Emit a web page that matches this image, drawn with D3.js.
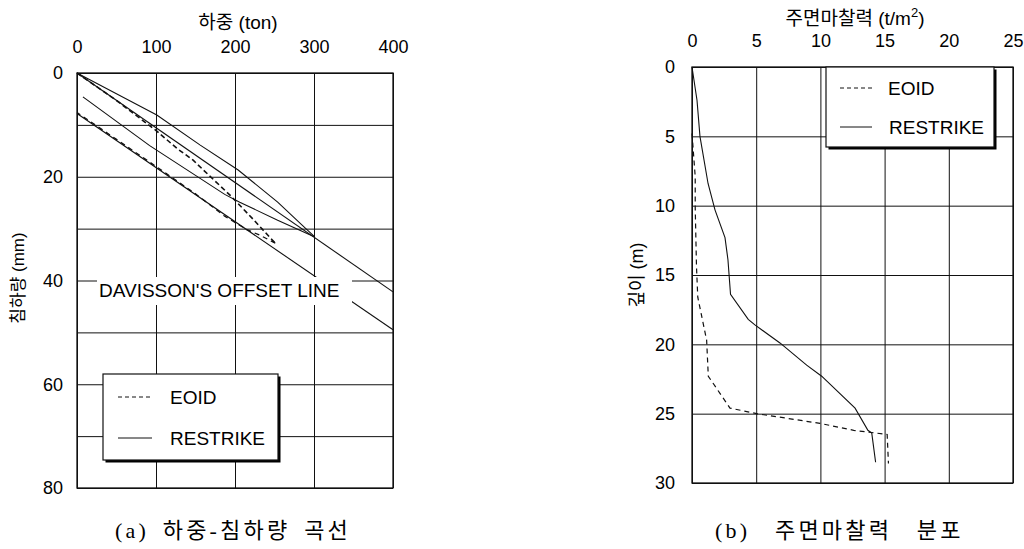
<!DOCTYPE html>
<html><head><meta charset="utf-8">
<script src="https://cdn.jsdelivr.net/npm/d3@7"></script>
<style>body{margin:0;background:#fff} svg{display:block;background:#fff}</style>
</head><body><svg id="c" width="1024" height="549"></svg>
<script>
// ---------- (a) load-settlement data ----------
const loadTicks = [0, 100, 200, 300, 400];
const settleTicks = [0, 20, 40, 60, 80];
const settleGrid = [0, 10, 20, 30, 40, 50, 60, 70, 80];
const restrikeLoadingLoad   = [0, 101, 156, 204, 254, 289, 301];
const restrikeLoadingSettle = [0, 8.1, 13.9, 18.7, 24.9, 29.9, 31.6];
const restrikeUnloadLoad    = [301, 254, 206, 187, 92, 7.5];
const restrikeUnloadSettle  = [31.6, 28.4, 24.9, 23.4, 14.0, 4.6];
const eoidLoadingLoad   = [0, 50, 101, 127, 147, 160, 194, 206, 223, 232, 251];
const eoidLoadingSettle = [0, 5.3, 11.2, 14.6, 16.8, 18.7, 23.6, 25.5, 28.2, 29.7, 32.8];
const eoidUnloadLoad    = [251, 232, 215, 187, 150, 100, 50, 0];
const eoidUnloadSettle  = [32.8, 31.3, 30.2, 27.6, 23.3, 18.0, 12.8, 7.6];
const elasticLoad = [0, 400];
const elasticSettle = [0, 42.2];
const offsetLoad = [0, 400];
const offsetSettle = [7.8, 49.5];

// ---------- (b) skin friction data ----------
const frictionTicks = [0, 5, 10, 15, 20, 25];
const depthTicks = [0, 5, 10, 15, 20, 25, 30];
const restrikeFriction = [0, 0.39, 0.62, 1.25, 1.79, 2.57, 2.8, 3.0, 4.38, 4.9, 6.85, 8.93, 10.1, 12.7, 13.7, 14.0, 14.3];
const restrikeDepth    = [0, 2.4, 5.0, 8.4, 10.3, 12.3, 13.9, 16.4, 18.2, 18.6, 19.9, 21.5, 22.3, 24.6, 26.2, 26.4, 28.5];
const eoidFriction = [0, 0.25, 0.25, 0.35, 0.45, 1.14, 1.27, 2.96, 5.04, 9.97, 12.6, 15.2, 15.3];
const eoidDepth    = [4.8, 7.9, 10.1, 14.4, 16.6, 19.7, 22.3, 24.6, 25.0, 25.7, 26.2, 26.5, 28.6];

const svg = d3.select('#c');
const LAT = '"Liberation Sans", Arial, sans-serif';
const KR = '"Liberation Sans", "Noto Sans CJK KR", sans-serif';
const SERIF = '"Liberation Serif", "Noto Sans CJK KR", serif';
const zip = (a, b) => a.map((v, i) => [v, b[i]]);
const ink = '#111';

function grid(g, x, y, xv, yv) {
  g.append('g').call(d3.axisTop(x).tickValues(xv).tickSize(-(y.range()[1] - y.range()[0])).tickFormat(''))
    .attr('transform', `translate(0,${y.range()[0]})`)
    .call(s => { s.select('.domain').remove(); s.selectAll('line').attr('stroke', ink).attr('stroke-width', 1); });
  g.append('g').call(d3.axisLeft(y).tickValues(yv).tickSize(-(x.range()[1] - x.range()[0])).tickFormat(''))
    .attr('transform', `translate(${x.range()[0]},0)`)
    .call(s => { s.select('.domain').remove(); s.selectAll('line').attr('stroke', ink).attr('stroke-width', 1); });
}
function labels(g, x, y, xv, yv, padTop, padLeft) {
  g.append('g').attr('transform', `translate(0,${y.range()[0]})`)
    .call(d3.axisTop(x).tickValues(xv).tickSize(0).tickPadding(padTop))
    .call(s => { s.select('.domain').remove(); s.selectAll('text').attr('font-family', LAT).attr('font-size', 18).attr('fill', '#000'); });
  g.append('g').attr('transform', `translate(${x.range()[0]},0)`)
    .call(d3.axisLeft(y).tickValues(yv).tickSize(0).tickPadding(padLeft))
    .call(s => { s.select('.domain').remove(); s.selectAll('text').attr('font-family', LAT).attr('font-size', 18).attr('fill', '#000'); });
}
function frame(g, x, y) {
  g.append('rect').attr('x', x.range()[0]).attr('y', y.range()[0])
    .attr('width', x.range()[1] - x.range()[0]).attr('height', y.range()[1] - y.range()[0])
    .attr('fill', 'none').attr('stroke', ink).attr('stroke-width', 1.3);
}
function legend(g, x0, y0, w, h, rows) {
  g.append('rect').attr('x', x0 + 2.5).attr('y', y0 + 2.5).attr('width', w).attr('height', h).attr('fill', '#000');
  g.append('rect').attr('x', x0).attr('y', y0).attr('width', w).attr('height', h).attr('fill', '#fff').attr('stroke', ink).attr('stroke-width', 1.2);
  rows.forEach(r => {
    g.append('line').attr('x1', r.lx1).attr('x2', r.lx2).attr('y1', r.y).attr('y2', r.y)
      .attr('stroke', ink).attr('stroke-width', 1).attr('stroke-dasharray', r.dash);
    g.append('text').attr('x', r.tx).attr('y', r.y).attr('dy', '0.36em').text(r.label)
      .attr('font-family', LAT).attr('font-size', 19).attr('fill', '#000');
  });
}

// ================= chart (a) =================
const xa = d3.scaleLinear([0, 400], [77, 393]);
const ya = d3.scaleLinear([0, 80], [73, 488]);
const ga = svg.append('g');
grid(ga, xa, ya, loadTicks, settleGrid);
const lineA = d3.line().x(d => xa(d[0])).y(d => ya(d[1]));
const seriesA = [
  {d: zip(elasticLoad, elasticSettle), dash: null},
  {d: zip(offsetLoad, offsetSettle), dash: null},
  {d: zip(restrikeLoadingLoad, restrikeLoadingSettle), dash: null},
  {d: zip(restrikeUnloadLoad, restrikeUnloadSettle), dash: null},
  {d: zip(eoidLoadingLoad, eoidLoadingSettle), dash: '5,3', w: 1.6},
  {d: zip(eoidUnloadLoad, eoidUnloadSettle), dash: '5,4', w: 1.3},
];
seriesA.forEach(s => ga.append('path').attr('d', lineA(s.d)).attr('fill', 'none')
  .attr('stroke', ink).attr('stroke-width', s.w || 1.1).attr('stroke-dasharray', s.dash));
// offset label with white background
ga.append('rect').attr('x', 97).attr('y', 277).attr('width', 255).attr('height', 28).attr('fill', '#fff');
ga.append('text').attr('x', 99).attr('y', 297).text("DAVISSON'S OFFSET LINE")
  .attr('font-family', LAT).attr('font-size', 19).attr('fill', '#000');
frame(ga, xa, ya);
labels(ga, xa, ya, loadTicks, settleTicks, 20, 14);
ga.append('text').attr('x', 238).attr('y', 29).attr('text-anchor', 'middle').text('하중 (ton)')
  .attr('font-family', KR).attr('font-size', 19);
ga.append('text').attr('transform', 'translate(24,278) rotate(-90)').attr('text-anchor', 'middle').text('침하량 (mm)')
  .attr('font-family', KR).attr('font-size', 17);
legend(ga, 103, 374, 175, 86, [
  {y: 397, lx1: 118, lx2: 152, tx: 170, label: 'EOID', dash: '4,3'},
  {y: 438, lx1: 118, lx2: 152, tx: 170, label: 'RESTRIKE', dash: null},
]);
svg.append('text').attr('x', 115).attr('y', 538).text('(a) 하중-침하량 곡선')
  .attr('font-family', SERIF).attr('font-size', 22)
  .attr('letter-spacing', 3.2).attr('word-spacing', 5);

// ================= chart (b) =================
const xb = d3.scaleLinear([0, 25], [692, 1013]);
const yb = d3.scaleLinear([0, 30], [67, 483]);
const gb = svg.append('g');
grid(gb, xb, yb, frictionTicks, depthTicks);
const lineB = d3.line().x(d => xb(d[0])).y(d => yb(d[1]));
gb.append('path').attr('d', lineB(zip(restrikeFriction, restrikeDepth))).attr('fill', 'none')
  .attr('stroke', ink).attr('stroke-width', 1.1);
gb.append('path').attr('d', lineB(zip(eoidFriction, eoidDepth))).attr('fill', 'none')
  .attr('stroke', ink).attr('stroke-width', 1.2).attr('stroke-dasharray', '5,4');
frame(gb, xb, yb);
labels(gb, xb, yb, frictionTicks, depthTicks, 20, 17);
const tb = gb.append('text').attr('x', 855).attr('y', 25).attr('text-anchor', 'middle')
  .attr('font-family', KR).attr('font-size', 19);
tb.append('tspan').text('주면마찰력 (t/m');
tb.append('tspan').attr('dy', -8).attr('font-size', 13).text('2');
tb.append('tspan').attr('dy', 8).text(')');
gb.append('text').attr('transform', 'translate(643,275) rotate(-90)').attr('text-anchor', 'middle').text('깊이 (m)')
  .attr('font-family', KR).attr('font-size', 18);
legend(gb, 826, 67, 168, 80, [
  {y: 88, lx1: 840, lx2: 872, tx: 888, label: 'EOID', dash: '4,3'},
  {y: 127, lx1: 840, lx2: 872, tx: 889, label: 'RESTRIKE', dash: null},
]);
svg.append('text').attr('x', 715).attr('y', 538).text('(b) 주면마찰력 분포')
  .attr('font-family', SERIF).attr('font-size', 22)
  .attr('letter-spacing', 3.2).attr('word-spacing', 16);
</script></body></html>
